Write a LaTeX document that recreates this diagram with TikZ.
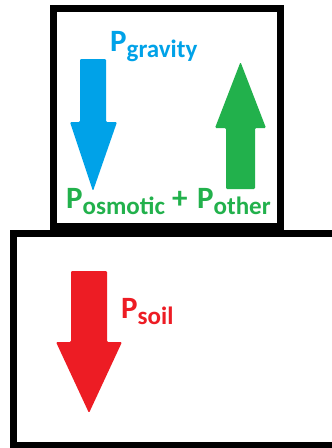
\documentclass[tikz,border=0pt]{standalone}
\usepackage{fontspec}
\setmainfont{Carlito}
\definecolor{pblue}{HTML}{00A2E8}
\definecolor{pgreen}{HTML}{22B14C}
\definecolor{pred}{HTML}{ED1C24}
\newcommand\lblsub[1]{\raisebox{-6pt}{\fontsize{25}{25}\selectfont #1}}
\begin{document}
\begin{tikzpicture}[x=1pt,y=-1pt,
  box/.style={draw=black,line width=7pt},
  arr/.style={rounded corners=1.2pt},
  lbl/.style={inner sep=0pt,anchor=base west,font=\bfseries\fontsize{31}{31}\selectfont}]
\useasboundingbox (0,0) rectangle (332,448);
\clip (0,0) rectangle (332,448);
\fill[white] (0,0) rectangle (332,448);
% boxes
\draw[box] (53.5,8.5) rectangle (280,226);
\draw[box] (13.5,233) rectangle (345,445.5);
% blue arrow (down)
\fill[pblue,arr] (80,59) -- (106,59) -- (106,122) -- (117,122) -- (93,191) -- (70,122) -- (80,122) -- cycle;
% green arrow (up)
\fill[pgreen,arr] (226,189) -- (255,189) -- (255,128) -- (266,128) -- (240.5,62) -- (215,128) -- (226,128) -- cycle;
% red arrow (down)
\fill[pred,arr] (71,271) -- (107,271) -- (107,342) -- (122,342) -- (89,413) -- (56,342) -- (71,342) -- cycle;
% labels
\node[lbl,text=pblue] (grav) at (110,51) {P\lblsub{gravity}};
\node[lbl,text=pgreen] (osm) at (66,208) {P\lblsub{osmotic}};
\node[lbl,text=pgreen] (plus) at (172,208) {+};
\node[lbl,text=pgreen] (oth) at (197,208) {P\lblsub{other}};
\node[lbl,text=pred] (soil) at (121,318) {P\lblsub{soil}};
\end{tikzpicture}
\end{document}
